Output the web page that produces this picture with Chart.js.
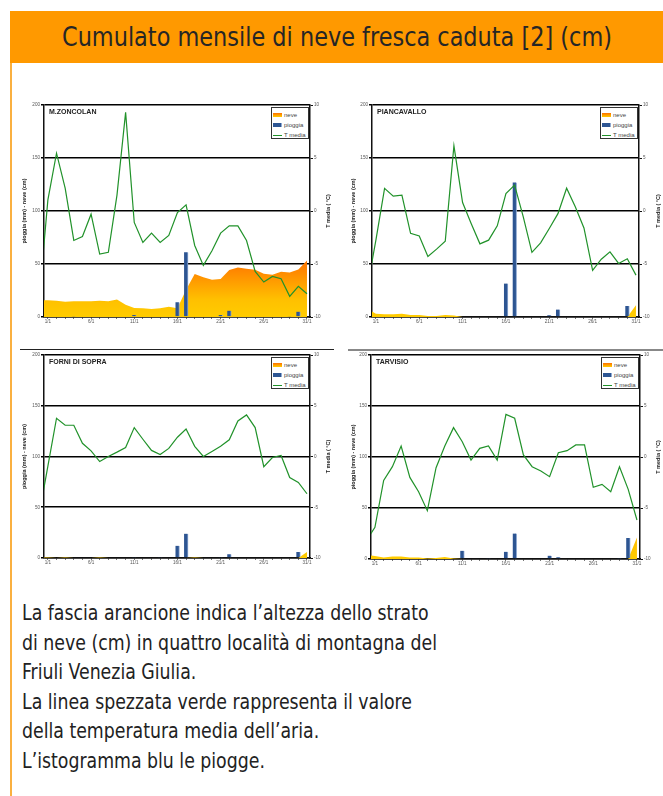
<!DOCTYPE html>
<html>
<head>
<meta charset="utf-8">
<script src="https://cdn.jsdelivr.net/npm/chart.js@4.4.0/dist/chart.umd.min.js"></script>
<style>
body{margin:0;background:#fff;width:663px;height:796px;position:relative;overflow:hidden;font-family:"Liberation Sans",Arial,sans-serif}
#head{position:absolute;left:10px;top:11px;width:653px;height:52px;background:#FF9900;color:#262626;font-family:"Liberation Sans Narrow","DejaVu Sans Condensed",sans-serif;font-size:26px;line-height:52px;text-align:center;white-space:nowrap}
#head span{display:inline-block;transform-origin:50% 50%}
#vline{position:absolute;left:10px;top:63px;width:2px;height:733px;background:#FAB040}
.sep{position:absolute;height:1px;background:#222}
.plot{position:absolute}
.name{position:absolute;font:bold 7px "Liberation Sans",Arial,sans-serif;color:#222;white-space:nowrap}
.leg{position:absolute;border:1px solid #333;background:#fff;font:6px "Liberation Sans",Arial,sans-serif;color:#444;box-sizing:border-box;padding:2px 0 0 1px}
.leg div{height:10px;line-height:10px;white-space:nowrap}
.leg span{display:inline-block;width:9px;margin-right:2px;vertical-align:middle}
#note{position:absolute;left:22px;top:598px;display:inline-block;transform-origin:0 0;font-family:"Liberation Sans Narrow","DejaVu Sans Condensed",sans-serif;font-size:22px;line-height:29.5px;color:#222;white-space:nowrap}
</style>
</head>
<body>
<div id="head"><span>Cumulato mensile di neve fresca caduta [2] (cm)</span></div>
<div id="vline"></div>
<div class="sep" style="left:20px;top:349px;width:314px"></div>
<div class="sep" style="left:348px;top:349px;width:315px;height:2px;background:#888"></div>
<div id="note">La fascia arancione indica l’altezza dello strato<br>di neve (cm) in quattro località di montagna del<br>Friuli Venezia Giulia.<br>La linea spezzata verde rappresenta il valore<br>della temperatura media dell’aria.<br>L’istogramma blu le piogge.</div>
<script>
// giorni: 0 = 31/12, poi 1..31 gennaio
const days = []
for (let d = 0; d <= 31; d++) days.push(d)
const xLabelDays = [1, 6, 11, 16, 21, 26, 31]

const zoncolanNeve = [16, 15.7, 15.4, 14.4, 14.8, 14.8, 14.8, 15.4, 14.8, 16.6, 11.6, 8.5, 8.2, 7.5, 8.2, 9.7, 8.2, 25.7, 40.5, 37.4, 35.2, 35.8, 44.3, 46.8, 45.5, 44.6, 40.8, 39.9, 42.7, 42, 44.9, 53.4]
const zoncolanPioggia = [0, 0, 0, 0, 1, 0, 0, 0, 0, 0, 0, 2, 0, 0, 0, 0, 14, 61, 0, 0, 0, 2, 6, 0, 0, 0, 0, 0, 0, 1, 5, 0]
const zoncolanTemp = [-8.2, 1.05, 5.45, 2.15, -2.78, -2.4, -0.3, -4.07, -3.9, 1.5, 9.3, -1.08, -2.97, -2.09, -2.97, -2.3, -0.14, 0.58, -3.25, -5.13, -3.75, -2.09, -1.4, -1.4, -2.78, -5.7, -6.7, -6.17, -6.39, -8.05, -7.1, -7.8]

const piancavalloNeve = [8, 3, 2.5, 2.5, 3, 2, 2, 1, 1, 2, 1.5, 0, 0, 0, 0, 0, 0, 0, 0, 0, 0, 0, 0, 0, 0, 0, 0, 0, 0, 0, 0, 11]
const piancavalloPioggia = [0, 0, 0, 0, 0, 0, 0, 0, 0, 0, 0, 0, 0, 0, 0, 0, 31.5, 127, 0, 0, 0, 1.6, 7, 0, 0, 0, 0, 0, 0, 0, 10.4, 0]
const piancavalloTemp = [-7.26, -2.75, 2.13, 1.4, 1.5, -2.1, -2.35, -4.3, -3.6, -2.85, 6.15, 0.8, -1.2, -3.1, -2.75, -1.4, 1.65, 2.45, -0.55, -3.9, -3.0, -1.65, -0.25, 2.15, 0.4, -1.6, -5.6, -4.55, -3.85, -4.95, -4.5, -6.05]

const forniNeve = [0.5, 0.5, 0, 0.5, 0, 0, 0, 0.5, 0, 0, 0, 0, 0, 0, 0, 0, 0, 0, 0.5, 0, 0, 0, 0, 0, 0, 0, 0, 0, 0, 0, 0, 6]
const forniPioggia = [0, 0, 0, 0, 0, 0, 0, 0, 0, 0, 0, 1, 0, 0, 1, 0, 12, 24, 0, 0, 0, 1, 3.6, 0, 0, 0, 0, 0, 0, 0, 6, 0]
const forniTemp = [-5.67, -0.95, 3.77, 3.08, 3.08, 1.3, 0.56, -0.5, 0, 0.43, 0.89, 2.85, 1.7, 0.6, 0.2, 0.8, 1.9, 2.7, 1.0, 0, 0.5, 1.0, 1.64, 3.5, 4.1, 2.85, -1.0, -0.1, 0.1, -2.07, -2.56, -3.67]

const tarvisioNeve = [4, 3, 1.5, 2.5, 2.5, 1.5, 1.5, 0.5, 1, 2, 0.5, 0, 0, 0, 0, 0, 0, 0, 0, 0, 0, 0, 0, 0, 0, 0, 0, 0, 0, 0, 0, 21]
const tarvisioPioggia = [0, 0, 0, 0, 0, 0, 0, 0, 0, 0, 0, 8, 0, 0, 1, 0, 7, 25, 0, 0, 0, 3.3, 1.6, 0, 0, 0, 0, 0, 0, 0.5, 20.6, 0]
const tarvisioTemp = [-8.2, -6.9, -2.3, -0.95, 1.08, -2.0, -3.4, -5.26, -1.05, 1.08, 2.88, 1.5, -0.3, 0.85, 1.08, -0.3, 4.18, 3.8, 0.2, -0.95, -1.37, -1.93, 0.42, 0.62, 1.18, 1.18, -2.97, -2.68, -3.4, -0.95, -3.17, -6.18]

const GREEN = '#21922a'
const BLUE = '#2d5592'

// i font condensati non ci sono: stringo in orizzontale alla larghezza dell'originale
const headSpan = document.querySelector('#head span')
headSpan.style.transform = 'scaleX(' + (550 / headSpan.getBoundingClientRect().width) + ')'
const note = document.getElementById('note')
note.style.transform = 'scaleX(' + (415 / note.getBoundingClientRect().width) + ')'

const pts = (arr) => days.map((d, i) => ({x: d, y: arr[i]}))

function neveFill(c) {
    const chart = c.chart
    if (!chart.chartArea) return '#FFC800'
    const y = chart.scales.y
    const g = chart.ctx.createLinearGradient(0, y.getPixelForValue(0), 0, y.getPixelForValue(55))
    g.addColorStop(0, '#FFCC00')
    g.addColorStop(0.3, '#FFC000')
    g.addColorStop(1, '#FF7000')
    return g
}

// titolo dell'asse destro scritto dal basso verso l'alto come in Excel
const rightTitle = {
    id: 'rightTitle',
    afterDraw(chart, args, opts) {
        const ctx = chart.ctx
        const a = chart.chartArea
        ctx.save()
        ctx.translate(opts.x, (a.top + a.bottom) / 2)
        ctx.rotate(-Math.PI / 2)
        ctx.font = 'bold 5.5px "Liberation Sans"'
        ctx.fillStyle = '#222'
        ctx.textAlign = 'center'
        ctx.textBaseline = 'middle'
        ctx.fillText(opts.text, 0, 0)
        ctx.restore()
    }
}

function makeChart(name, neve, pioggia, temp, b) {
    const cv = document.createElement('canvas')
    cv.className = 'plot'
    cv.width = b.w; cv.height = b.h
    cv.style.left = b.x + 'px'; cv.style.top = b.y + 'px'
    cv.style.width = b.w + 'px'; cv.style.height = b.h + 'px'
    document.body.appendChild(cv)

    const yW = b.pl - b.x, y2W = b.x + b.w - b.pr, xH = b.y + b.h - b.pb
    const tickFont = {size: 4.6, family: 'Liberation Sans'}
    const titleFont = {size: 5.5, family: 'Liberation Sans', weight: 'bold'}

    new Chart(cv, {
        type: 'bar',
        data: {
            datasets: [
                {type: 'line', label: 'T media', data: pts(temp), yAxisID: 'y2', borderColor: GREEN, borderWidth: 1.2, pointRadius: 0, fill: false, order: 1},
                {type: 'bar', label: 'pioggia', data: pts(pioggia), yAxisID: 'y', backgroundColor: BLUE, borderColor: '#8fa9d1', borderWidth: {right: 1, top: 0, left: 0, bottom: 0}, barThickness: 4, order: 2},
                {type: 'line', label: 'neve', data: pts(neve), yAxisID: 'y', backgroundColor: neveFill, borderWidth: 0, pointRadius: 0, fill: 'origin', order: 3}
            ]
        },
        plugins: [rightTitle],
        options: {
            responsive: false,
            animation: false,
            events: [],
            layout: {padding: {top: b.pt - b.y, left: 0, right: 0, bottom: 0}},
            plugins: {
                legend: {display: false},
                tooltip: {enabled: false},
                rightTitle: {text: 'T media ( °C)', x: b.tr - b.x}
            },
            scales: {
                x: {
                    type: 'linear', min: 0.55, max: 31.35, offset: false,
                    afterFit: (s) => { s.height = xH },
                    border: {color: '#111', width: 1.5},
                    grid: {offset: false, drawOnChartArea: false, drawTicks: true, tickLength: 2, color: '#777'},
                    ticks: {
                        stepSize: 1, includeBounds: false, autoSkip: false, maxRotation: 0, padding: 0,
                        font: tickFont, color: '#555',
                        callback: (v) => xLabelDays.includes(v) ? v + '/1' : ''
                    }
                },
                y: {
                    position: 'left', min: 0, max: 200,
                    afterFit: (s) => { s.width = yW },
                    border: {color: '#111', width: 1.5},
                    grid: {color: '#000', lineWidth: 1.6, tickLength: 3},
                    ticks: {stepSize: 50, font: tickFont, color: '#555', padding: 1},
                    title: {display: true, text: 'pioggia (mm) - neve (cm)', font: titleFont, color: '#222', padding: {top: b.tl - b.x - 3.3, bottom: 0}}
                },
                y2: {
                    position: 'right', min: -10, max: 10,
                    afterFit: (s) => { s.width = y2W },
                    border: {color: '#111', width: 1.5},
                    grid: {drawOnChartArea: false, color: '#111', tickLength: 3},
                    ticks: {stepSize: 5, font: tickFont, color: '#555', padding: 1}
                }
            }
        }
    })

    const n = document.createElement('div')
    n.className = 'name'
    n.textContent = name
    n.style.left = (b.pl + 5) + 'px'; n.style.top = (b.pt + 3) + 'px'
    document.body.appendChild(n)

    const lg = document.createElement('div')
    lg.className = 'leg'
    lg.style.left = (b.pr - 39) + 'px'; lg.style.top = (b.pt + 2) + 'px'
    lg.style.width = '38px'; lg.style.height = '32px'
    lg.innerHTML =
        '<div><span style="height:4px;background:linear-gradient(#FF7000,#FFCC00)"></span>neve</div>' +
        '<div><span style="height:4px;background:' + BLUE + ';border-right:1px solid #8fa9d1;width:8px"></span>pioggia</div>' +
        '<div><span style="height:1.3px;background:' + GREEN + '"></span>T media</div>'
    document.body.appendChild(lg)
}

makeChart('M.ZONCOLAN', zoncolanNeve, zoncolanPioggia, zoncolanTemp,
    {x: 14, y: 98, w: 322, h: 236, pl: 44, pr: 310, pt: 105, pb: 317, tl: 24, tr: 328})
makeChart('PIANCAVALLO', piancavalloNeve, piancavalloPioggia, piancavalloTemp,
    {x: 340, y: 98, w: 323, h: 236, pl: 372, pr: 639, pt: 105, pb: 317, tl: 353, tr: 658})
makeChart('FORNI DI SOPRA', forniNeve, forniPioggia, forniTemp,
    {x: 14, y: 350, w: 322, h: 225, pl: 44, pr: 310, pt: 355, pb: 558, tl: 24, tr: 328})
makeChart('TARVISIO', tarvisioNeve, tarvisioPioggia, tarvisioTemp,
    {x: 340, y: 350, w: 323, h: 225, pl: 371, pr: 640, pt: 355, pb: 559, tl: 353, tr: 658})
</script>
</body>
</html>
